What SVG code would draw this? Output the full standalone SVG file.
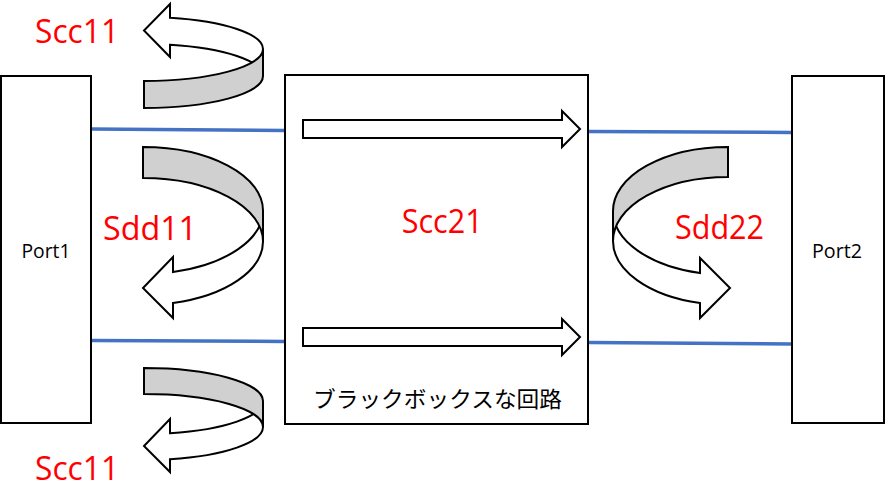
<svg xmlns="http://www.w3.org/2000/svg" width="885" height="498" viewBox="0 0 885 498">
<style>
.box{fill:#fff;stroke:#000;stroke-width:2}
.wire{fill:none;stroke:#4472c4;stroke-width:3.5}
.arr{fill:#fff;stroke:#000;stroke-width:2;stroke-linejoin:miter}
.band{fill:#d0d0d0;stroke:#000;stroke-width:2;stroke-linejoin:miter}
.port{font-family:"Open Sans","Liberation Sans",sans-serif;font-size:19.5px;fill:#000}
.lbl{font-family:"Open Sans","Liberation Sans",sans-serif;font-size:32px;fill:#ff0000}
.jp{font-family:"Noto Sans CJK JP","Noto Sans",sans-serif;font-size:22px;fill:#000}
</style>
<rect width="885" height="498" fill="#fff"/>
<g id="connectors">
<line class="wire" x1="91" y1="129" x2="285" y2="130.5"/>
<line class="wire" x1="588" y1="131.5" x2="792" y2="132.5"/>
<line class="wire" x1="91" y1="340.5" x2="285" y2="341.5"/>
<line class="wire" x1="588" y1="342.5" x2="792" y2="344"/>
</g>
<g id="port1">
<rect class="box" x="1" y="76" width="90" height="347"/>
<text class="port" x="46" y="258.3" text-anchor="middle" textLength="49" lengthAdjust="spacingAndGlyphs">Port1</text>
</g>
<g id="port2">
<rect class="box" x="792" y="76" width="92" height="347"/>
<text class="port" x="837" y="258.3" text-anchor="middle" textLength="50" lengthAdjust="spacingAndGlyphs">Port2</text>
</g>
<g id="blackbox">
<rect class="box" x="285" y="75" width="303" height="349"/>
<path class="arr" d="M303,120 L562,120 L562,111 L580,129 L562,147 L562,138 L303,138 Z"/>
<path class="arr" d="M303,328 L562,328 L562,319 L580,337 L562,355 L562,346 L303,346 Z"/>
<text class="jp" x="313" y="407" textLength="249" lengthAdjust="spacingAndGlyphs">ブラックボックスな回路</text>
</g>
<g id="scc11-top">
<path class="arr" d="M170,17.77 A119,32 0 0 1 263,49 L263,76 A119,32 0 0 0 170,44.77 L170,57 L144,30.5 L170,4 Z"/>
<path class="band" d="M144,81 A119,32 0 0 0 263,49 L263,76 A119,32 0 0 1 144,108 Z"/>
<text class="lbl" x="35" y="42.7" textLength="84" lengthAdjust="spacingAndGlyphs">Scc11</text>
</g>
<g id="sdd11">
<path class="arr" d="M263,210.5 A120,63.5 0 0 1 173,271.98 L173,257 L143,288 L173,318 L173,302.98 A120,63.5 0 0 0 263,241.5 Z"/>
<path class="band" d="M143,147 A120,63.5 0 0 1 263,210.5 L263,241.5 A120,63.5 0 0 0 143,178 Z"/>
<text class="lbl" x="103" y="240" textLength="94" lengthAdjust="spacingAndGlyphs">Sdd11</text>
</g>
<g id="scc21">
<text class="lbl" x="401.7" y="232.7" textLength="81" lengthAdjust="spacingAndGlyphs">Scc21</text>
</g>
<g id="sdd22">
<path class="arr" d="M613,211 A115,64 0 0 0 700,273.07 L700,258 L730,288 L700,318 L700,303.07 A115,64 0 0 1 613,241 Z"/>
<path class="band" d="M728,147 A115,64 0 0 0 613,211 L613,241 A115,64 0 0 1 728,177 Z"/>
<text class="lbl" x="675" y="239" textLength="89" lengthAdjust="spacingAndGlyphs">Sdd22</text>
</g>
<g id="scc11-bottom">
<path class="arr" d="M263,401 A119,33 0 0 1 170,433.2 L170,419 L144,446 L170,472 L170,459.2 A119,33 0 0 0 263,427 Z"/>
<path class="band" d="M144,368 A119,33 0 0 1 263,401 L263,427 A119,33 0 0 0 144,394 Z"/>
<text class="lbl" x="35" y="480" textLength="84" lengthAdjust="spacingAndGlyphs">Scc11</text>
</g>
</svg>
